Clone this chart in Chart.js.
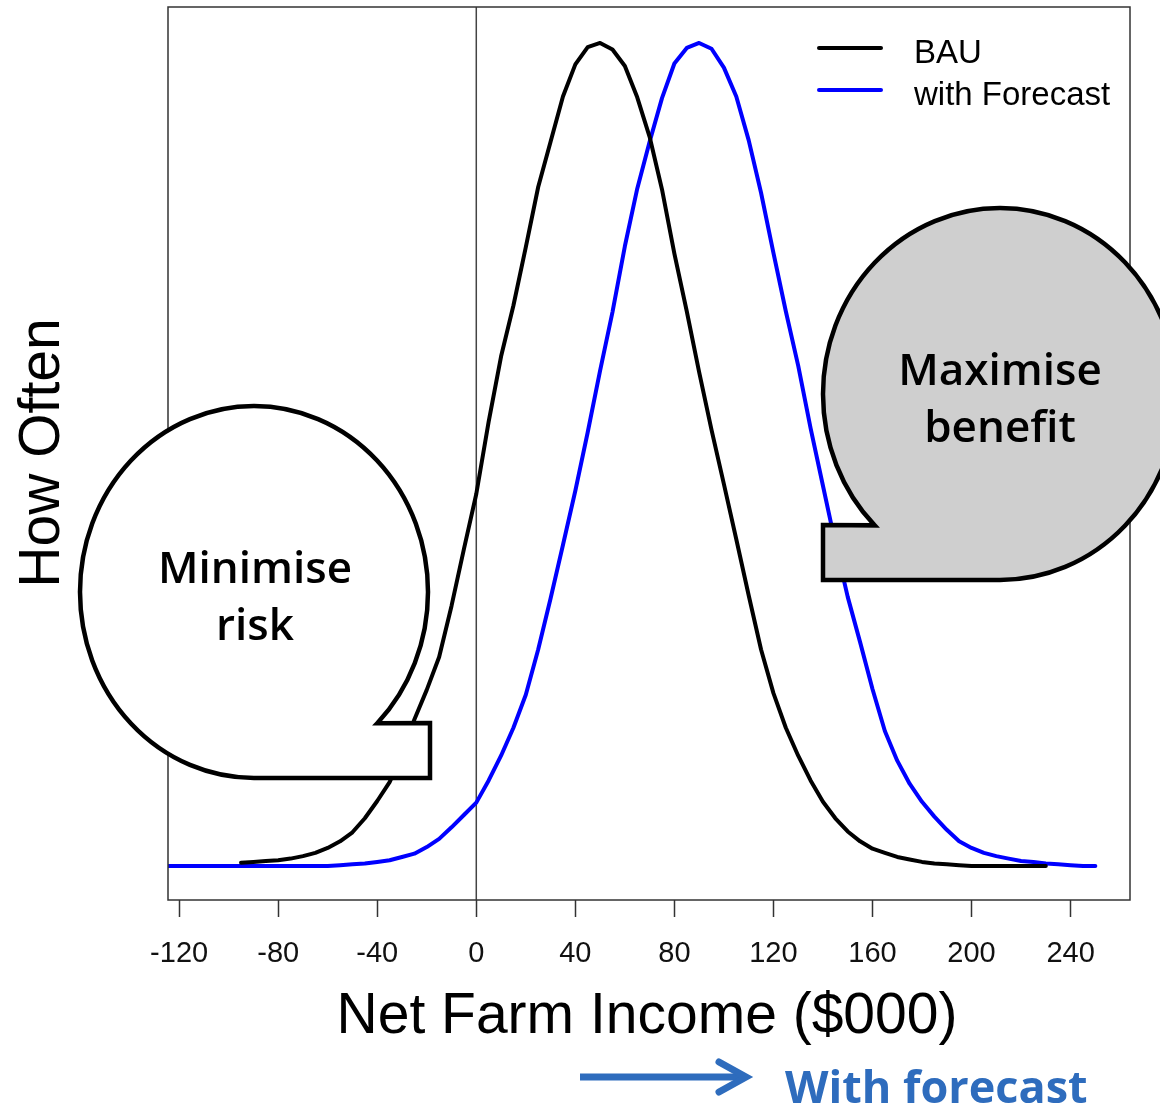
<!DOCTYPE html>
<html>
<head>
<meta charset="utf-8">
<title>Net Farm Income distribution</title>
<script src="https://cdn.jsdelivr.net/npm/chart.js@4.4.1/dist/chart.umd.min.js"></script>
<style>
  body { margin: 0; background: #fff; }
  canvas { display: block; }
</style>
</head>
<body>
<canvas id="incomeChart" width="1160" height="1107"></canvas>
<script>
// ---- data ($000 income vs relative frequency) ----
const bauIncome = [-95, -90, -85, -80, -75, -70, -65, -60, -55, -50, -45, -40, -35, -30, -25, -20, -15, -10, -5,
    0, 5, 10, 15, 20, 25, 30, 35, 40, 45, 50, 55, 60, 65, 70, 75, 80, 85, 90, 95, 100,
    105, 110, 115, 120, 125, 130, 135, 140, 145, 150, 155, 160, 165, 170, 175, 180, 185, 190, 195, 200,
    205, 210, 215, 220, 225, 230];
const bauFreq = [0.004, 0.005, 0.006, 0.007, 0.009, 0.012, 0.016, 0.022, 0.030, 0.041, 0.058, 0.079, 0.102, 0.135, 0.178, 0.214, 0.254, 0.316, 0.385,
    0.452, 0.540, 0.619, 0.681, 0.752, 0.825, 0.880, 0.935, 0.974, 0.995, 1.000, 0.992, 0.972, 0.934, 0.886, 0.822, 0.744, 0.674, 0.600, 0.530, 0.464,
    0.397, 0.329, 0.263, 0.210, 0.168, 0.134, 0.104, 0.078, 0.058, 0.042, 0.030, 0.021, 0.016, 0.011, 0.008, 0.005, 0.003, 0.002, 0.001, 0.000,
    0, 0, 0, 0, 0, 0];

const forecastIncome = [-125, -120, -115, -110, -105, -100, -95, -90, -85, -80, -75, -70, -65, -60, -55, -50, -45, -40, -35, -30, -25, -20, -15, -10, -5,
    0, 5, 10, 15, 20, 25, 30, 35, 40, 45, 50, 55, 60, 65, 70, 75, 80, 85, 90, 95, 100,
    105, 110, 115, 120, 125, 130, 135, 140, 145, 150, 155, 160, 165, 170, 175, 180, 185, 190, 195, 200,
    205, 210, 215, 220, 225, 230, 235, 240, 245, 250];
const forecastFreq = [0, 0, 0, 0, 0, 0, 0, 0, 0, 0, 0, 0, 0, 0, 0.001, 0.002, 0.003, 0.005, 0.007, 0.011, 0.015, 0.023, 0.033, 0.047, 0.062,
    0.077, 0.104, 0.134, 0.168, 0.208, 0.263, 0.325, 0.390, 0.456, 0.527, 0.602, 0.673, 0.753, 0.823, 0.880, 0.933, 0.975, 0.994, 1.000, 0.993, 0.970,
    0.935, 0.882, 0.818, 0.745, 0.674, 0.608, 0.532, 0.462, 0.392, 0.327, 0.272, 0.215, 0.164, 0.128, 0.100, 0.078, 0.060, 0.044, 0.030, 0.022,
    0.016, 0.012, 0.009, 0.006, 0.005, 0.003, 0.002, 0.001, 0.000, 0.000];

const xTicks = [-120, -80, -40, 0, 40, 80, 120, 160, 200, 240];

const seriesNames = ["BAU", "with Forecast"];
const seriesColors = ["#000000", "#0000ff"];

const RFONT = "'Liberation Sans', Arial, sans-serif";
const UIFONT = "'Open Sans', 'Noto Sans', sans-serif";
const ARROW_BLUE = "#2e6cbd";

function toPoints(xs, ys) {
    return xs.map((x, i) => ({ x: x, y: ys[i] }));
}

/* --------------------------------------------------
   speech bubble: ellipse with a square tail at the bottom corner
-------------------------------------------------- */
function drawBubble(ctx, b) {
    const notchAngle = Math.atan2((b.notchY - b.cy) / b.ry, (b.notchX - b.cx) / b.rx);
    ctx.save();
    ctx.beginPath();
    if (b.side === "right") {
        // tail on bottom-right: bottom -> left -> top -> right -> notch
        ctx.ellipse(b.cx, b.cy, b.rx, b.ry, 0, Math.PI / 2, notchAngle + 2 * Math.PI, false);
    } else {
        // tail on bottom-left: bottom -> right -> top -> left -> notch
        ctx.ellipse(b.cx, b.cy, b.rx, b.ry, 0, Math.PI / 2, notchAngle - 2 * Math.PI, true);
    }
    ctx.lineTo(b.tailX, b.notchY);
    ctx.lineTo(b.tailX, b.cy + b.ry);
    ctx.closePath();
    ctx.fillStyle = b.fill;
    ctx.fill();
    ctx.lineWidth = 4.5;
    ctx.lineJoin = "miter";
    ctx.strokeStyle = "#000";
    ctx.stroke();

    ctx.fillStyle = "#000";
    ctx.font = "600 44px " + UIFONT;
    ctx.textAlign = "center";
    ctx.textBaseline = "alphabetic";
    b.lines.forEach((t, i) => ctx.fillText(t, b.textX, b.textY + i * 57));
    ctx.restore();
}

const decorations = {
    id: "decorations",
    beforeDraw(chart) {
        const ctx = chart.ctx;
        ctx.save();
        ctx.fillStyle = "#fff";
        ctx.fillRect(0, 0, chart.width, chart.height);
        ctx.restore();
    },
    beforeDatasetsDraw(chart) {
        // vertical reference line at zero income
        const { ctx, chartArea } = chart;
        const x0 = chart.scales.x.getPixelForValue(0);
        ctx.save();
        ctx.strokeStyle = "#444";
        ctx.lineWidth = 1.5;
        ctx.beginPath();
        ctx.moveTo(x0, chartArea.top);
        ctx.lineTo(x0, chartArea.bottom);
        ctx.stroke();
        ctx.restore();
    },
    afterDraw(chart) {
        const { ctx, chartArea } = chart;
        ctx.save();

        // plot box
        ctx.strokeStyle = "#333";
        ctx.lineWidth = 1.5;
        ctx.strokeRect(chartArea.left, chartArea.top,
            chartArea.right - chartArea.left, chartArea.bottom - chartArea.top);

        // legend (top right, inside box)
        ctx.lineWidth = 4;
        ctx.lineCap = "round";
        ctx.font = "33px " + RFONT;
        ctx.textAlign = "left";
        ctx.textBaseline = "alphabetic";
        seriesNames.forEach((name, i) => {
            const y = 48 + i * 42;
            ctx.strokeStyle = seriesColors[i];
            ctx.beginPath();
            ctx.moveTo(819, y);
            ctx.lineTo(881, y);
            ctx.stroke();
            ctx.fillStyle = "#000";
            ctx.fillText(name, 914, y + 15);
        });

        // axis titles
        ctx.fillStyle = "#000";
        ctx.font = "57px " + RFONT;
        ctx.textAlign = "center";
        ctx.fillText("Net Farm Income ($000)", 647, 1033);
        ctx.save();
        ctx.translate(59, 453);
        ctx.rotate(-Math.PI / 2);
        ctx.fillText("How Often", 0, 0);
        ctx.restore();

        // speech bubbles
        drawBubble(ctx, {
            cx: 254, cy: 592, rx: 174, ry: 186,
            notchX: 377, notchY: 723, tailX: 430, side: "right",
            fill: "#ffffff", lines: ["Minimise", "risk"], textX: 255, textY: 583
        });
        drawBubble(ctx, {
            cx: 1000, cy: 394, rx: 177, ry: 186,
            notchX: 875, notchY: 525, tailX: 823, side: "left",
            fill: "#cfcfcf", lines: ["Maximise", "benefit"], textX: 1000, textY: 385
        });

        // arrow + note under the axis title
        ctx.strokeStyle = ARROW_BLUE;
        ctx.lineWidth = 7;
        ctx.lineCap = "butt";
        ctx.beginPath();
        ctx.moveTo(580, 1077);
        ctx.lineTo(744, 1077);
        ctx.stroke();
        ctx.lineCap = "round";
        ctx.lineJoin = "miter";
        ctx.beginPath();
        ctx.moveTo(719, 1062);
        ctx.lineTo(746, 1077);
        ctx.lineTo(719, 1092);
        ctx.stroke();

        ctx.fillStyle = ARROW_BLUE;
        ctx.font = "bold 45px " + UIFONT;
        ctx.textAlign = "left";
        ctx.fillText("With forecast", 785, 1103);

        ctx.restore();
    }
};

new Chart(document.getElementById("incomeChart"), {
    type: "line",
    data: {
        datasets: [
            {
                label: seriesNames[0],
                data: toPoints(bauIncome, bauFreq),
                borderColor: seriesColors[0],
                borderWidth: 4
            },
            {
                label: seriesNames[1],
                data: toPoints(forecastIncome, forecastFreq),
                borderColor: seriesColors[1],
                borderWidth: 4
            }
        ]
    },
    options: {
        responsive: false,
        animation: false,
        devicePixelRatio: 1,
        elements: {
            point: { radius: 0, hoverRadius: 0 },
            line: { tension: 0, fill: false, borderJoinStyle: "round", borderCapStyle: "round" }
        },
        layout: { padding: { left: 168, right: 30, top: 7, bottom: 0 } },
        plugins: {
            legend: { display: false },
            tooltip: { enabled: false }
        },
        scales: {
            x: {
                type: "linear",
                min: -124.5,
                max: 264,
                afterBuildTicks: scale => {
                    scale.ticks = xTicks.map(v => ({ value: v }));
                },
                afterFit: scale => { scale.height = 207; },
                border: { display: false },
                grid: {
                    drawOnChartArea: false,
                    drawTicks: true,
                    tickLength: 17,
                    tickWidth: 1.5,
                    tickColor: "#333"
                },
                ticks: {
                    autoSkip: false,
                    maxRotation: 0,
                    padding: 20,
                    color: "#111",
                    font: { family: RFONT, size: 29 }
                }
            },
            y: {
                display: false,
                min: -0.0413,
                max: 1.0437
            }
        }
    },
    plugins: [decorations]
});
</script>
</body>
</html>
